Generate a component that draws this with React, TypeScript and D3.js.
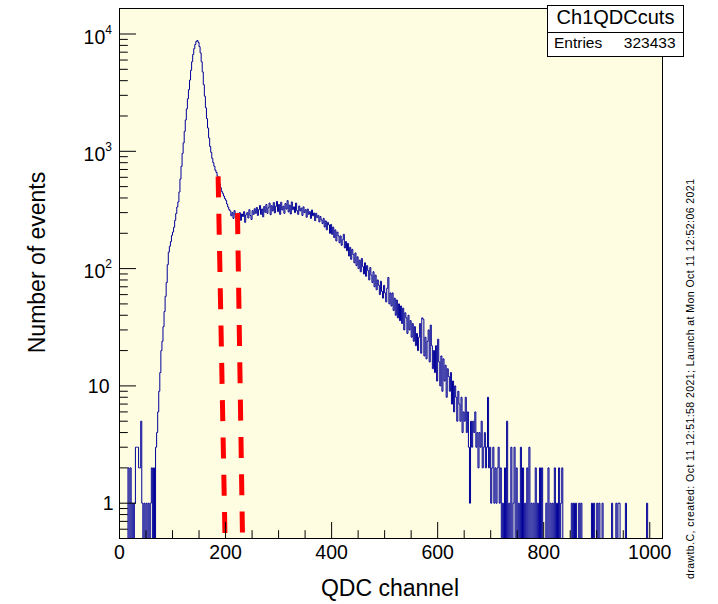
import React from "react";
import * as d3 from "d3";

// ---- data ----
const CHANNELS_PER_BIN = 2;
const X_MIN = 0;
const X_MAX = 1024;
const Y_MIN = 0.5;
const Y_MAX = 16500;

// counts per 2-channel bin
const qdcCh000to127 = [
  0, 0, 0, 0, 0, 0, 0, 0,
  2, 0, 2, 0, 1, 0, 1, 3,
  3, 3, 2, 2, 5, 1, 0, 1,
  0, 1, 0, 1, 0, 1, 2, 0,
  2, 0, 3, 4, 6, 9, 13, 20,
  24, 32, 43, 58, 76, 108, 138, 155,
  170, 192, 205, 225, 258, 295, 335, 370,
  450, 580, 745, 960, 1180, 1480, 1850, 2300,
];
const qdcCh128to255 = [
  2800, 3350, 4050, 4900, 5800, 6700, 7500, 8150,
  8650, 8800, 8500, 7800, 6900, 5800, 4750, 3700,
  2950, 2350, 1900, 1580, 1300, 1100, 980, 870,
  800, 745, 690, 660, 615, 565, 528, 490,
  455, 438, 415, 395, 382, 355, 335, 318,
  310, 282, 300, 268, 312, 286, 262, 296,
  274, 300, 258, 292, 278, 306, 248, 288,
  300, 270, 318, 284, 262, 312, 290, 324,
];
const qdcCh256to383 = [
  296, 332, 284, 318, 345, 290, 322, 276,
  338, 302, 352, 296, 330, 362, 288, 344,
  310, 366, 298, 340, 374, 306, 352, 290,
  368, 316, 340, 296, 358, 322, 380, 304,
  348, 292, 370, 318, 336, 300, 362, 312,
  290, 342, 310, 328, 284, 336, 300, 318,
  274, 322, 290, 306, 268, 316, 282, 298,
  256, 296, 272, 284, 250, 278, 260, 242,
];
const qdcCh384to511 = [
  268, 226, 255, 214, 248, 236, 200, 238,
  196, 226, 184, 214, 172, 205, 190, 166,
  190, 158, 176, 196, 150, 170, 142, 164,
  128, 152, 120, 146, 132, 112, 136, 106,
  126, 100, 118, 94, 122, 104, 90, 112,
  86, 106, 96, 80, 102, 88, 76, 94,
  70, 88, 66, 80, 72, 60, 78, 64,
  56, 72, 62, 52, 68, 84, 50, 62,
];
const qdcCh512to639 = [
  48, 62, 44, 56, 40, 54, 38, 50,
  36, 48, 34, 46, 30, 42, 38, 28,
  40, 30, 36, 26, 34, 24, 32, 22,
  28, 20, 26, 34, 19, 38, 37, 18,
  26, 17, 24, 30, 16, 33, 22, 14,
  20, 13, 22, 11, 25, 16, 10, 18,
  9, 17, 11, 15, 8, 14, 12, 9,
  13, 7, 11, 6, 10, 8, 5, 9,
];
const qdcCh640to767 = [
  7, 5, 8, 4, 6, 5, 8, 4,
  6, 3, 1, 5, 3, 5, 4, 6,
  3, 4, 2, 4, 3, 5, 2, 3,
  4, 2, 3, 8, 2, 3, 1, 2,
  3, 1, 2, 1, 2, 3, 1, 2,
  0, 1, 0, 2, 0, 5, 0, 1,
  0, 3, 0, 1, 3, 0, 2, 0,
  1, 0, 3, 0, 2, 0, 1, 0,
];
const qdcCh768to895 = [
  2, 0, 3, 0, 1, 0, 1, 0,
  2, 0, 1, 0, 2, 0, 2, 0,
  0, 0, 1, 0, 2, 0, 1, 0,
  1, 0, 2, 0, 1, 0, 2, 0,
  1, 2, 0, 0, 0, 0, 0, 0,
  0, 0, 1, 0, 1, 0, 1, 0,
  0, 1, 0, 1, 0, 0, 0, 0,
  0, 0, 0, 0, 0, 1, 0, 1,
];
const qdcCh896to1023 = [
  0, 0, 1, 0, 1, 0, 0, 1,
  0, 0, 0, 0, 0, 0, 0, 0,
  1, 0, 0, 0, 1, 0, 1, 1,
  0, 0, 0, 0, 0, 1, 0, 0,
  0, 0, 0, 0, 0, 0, 0, 0,
  0, 0, 0, 0, 0, 0, 0, 0,
  0, 1, 0, 0, 0, 0, 0, 0,
  0, 0, 0, 0, 0, 0, 0, 0,
];

const binCounts = [
  ...qdcCh000to127,
  ...qdcCh128to255,
  ...qdcCh256to383,
  ...qdcCh384to511,
  ...qdcCh512to639,
  ...qdcCh640to767,
  ...qdcCh768to895,
  ...qdcCh896to1023,
];

const xMajorTicks = [0, 200, 400, 600, 800, 1000];
const xMinorTicks = [
  50, 100, 150, 250, 300, 350, 450, 500, 550, 650, 700, 750, 850, 900, 950,
];
const yMajorTicks = [1, 10, 100, 1000, 10000];
const yTickExponents = [0, 1, 2, 3, 4];
const yMinorMantissas = [2, 3, 4, 5, 6, 7, 8, 9];
const yMinorDecades = [0.1, 1, 10, 100, 1000, 10000];

// the two cut lines (channel, count) at their top and bottom ends
const cutLines = [
  { chTop: 186, countTop: 611, chBottom: 199, countBottom: 0.5 },
  { chTop: 222.5, countTop: 297, chBottom: 232, countBottom: 0.5 },
];

const statsTitle = "Ch1QDCcuts";
const statsEntriesLabel = "Entries";
const statsEntries = "323433";
const xTitle = "QDC channel";
const yTitle = "Number of events";
const stampText =
  "drawtb.C, created: Oct 11 12:51:58 2021; Launch at Mon Oct 11 12:52:06 2021";

// ---- drawing ----
const FONT = "'Liberation Sans', Arial, Helvetica, sans-serif";

export default function App() {
  const W = 718;
  const H = 604;
  const L = 119.5;
  const R = 662.5;
  const T = 8.5;
  const B = 538.5;

  const x = d3.scaleLinear().domain([X_MIN, X_MAX]).range([L, R]);
  const y = d3.scaleLog().domain([Y_MIN, Y_MAX]).range([B, T]);
  const yOf = (c: number) => (c > 0 ? Math.max(T, Math.min(B, y(c))) : B);

  const pts: [number, number][] = binCounts.map((c, i) => [
    i * CHANNELS_PER_BIN,
    c,
  ]);
  pts.push([X_MAX, binCounts[binCounts.length - 1]]);
  const histPath =
    d3
      .line<[number, number]>()
      .x((d) => x(d[0]))
      .y((d) => yOf(d[1]))
      .curve(d3.curveStepAfter)(pts) || "";

  const yMinorTicks: number[] = [];
  yMinorDecades.forEach((d) =>
    yMinorMantissas.forEach((m) => {
      const v = m * d;
      if (v >= Y_MIN && v <= Y_MAX) yMinorTicks.push(v);
    })
  );

  const majorLen = 16.5;
  const minorLen = 8.3;
  const labelSize = 19.5;

  return (
    <svg
      width={W}
      height={H}
      viewBox={`0 0 ${W} ${H}`}
      style={{ position: "absolute", left: 0, top: 0, background: "#ffffff" }}
      fontFamily={FONT}
    >
      <defs>
        <clipPath id="frameClip">
          <rect x={L} y={T} width={R - L} height={B - T} />
        </clipPath>
      </defs>
      <rect x={0} y={0} width={W} height={H} fill="#ffffff" />
      {/* frame fill */}
      <rect x={L} y={T} width={R - L} height={B - T} fill="#fffde1" />

      {/* histogram */}
      <g clipPath="url(#frameClip)">
        <path d={histPath} fill="none" stroke="#000099" strokeWidth={1} />
      </g>

      {/* cut lines */}
      <g clipPath="url(#frameClip)">
        {cutLines.map((c, i) => (
          <line
            key={i}
            x1={x(c.chTop)}
            y1={y(c.countTop)}
            x2={x(c.chBottom)}
            y2={y(c.countBottom)}
            stroke="#ff0000"
            strokeWidth={5}
            strokeDasharray="21 16.3"
          />
        ))}
      </g>

      {/* frame border */}
      <rect
        x={L}
        y={T}
        width={R - L}
        height={B - T}
        fill="none"
        stroke="#000000"
        strokeWidth={1}
      />

      {/* ticks */}
      <g stroke="#000000" strokeWidth={1}>
        {xMajorTicks.map((t) => (
          <line key={"xM" + t} x1={x(t)} x2={x(t)} y1={B} y2={B - majorLen} />
        ))}
        {xMinorTicks.map((t) => (
          <line key={"xm" + t} x1={x(t)} x2={x(t)} y1={B} y2={B - minorLen} />
        ))}
        {yMajorTicks.map((t) => (
          <line key={"yM" + t} x1={L} x2={L + majorLen} y1={y(t)} y2={y(t)} />
        ))}
        {yMinorTicks.map((t) => (
          <line key={"ym" + t} x1={L} x2={L + minorLen} y1={y(t)} y2={y(t)} />
        ))}
      </g>

      {/* x labels */}
      <g fontSize={labelSize} fill="#000000" textAnchor="middle">
        {xMajorTicks.map((t) => (
          <text key={"xl" + t} x={x(t)} y={559.3}>
            {String(t)}
          </text>
        ))}
      </g>

      {/* y labels */}
      <g fontSize={labelSize} fill="#000000" textAnchor="end">
        {yMajorTicks.map((t, i) => {
          const e = yTickExponents[i];
          if (e <= 1) {
            return (
              <text key={"yl" + t} x={e === 0 ? 113.5 : 109.5} y={y(t) + 7}>
                {String(t)}
              </text>
            );
          }
          return (
            <text key={"yl" + t} x={112} y={y(t) + 9.5}>
              <tspan>10</tspan>
              <tspan dy={-9.7} fontSize={12}>
                {String(e)}
              </tspan>
            </text>
          );
        })}
      </g>

      {/* axis titles */}
      <text x={390} y={596} fontSize={23} textAnchor="middle">
        {xTitle}
      </text>
      <text
        transform="translate(45,262.5) rotate(-90)"
        x={0}
        y={0}
        fontSize={23}
        textAnchor="middle"
      >
        {yTitle}
      </text>

      {/* stats box */}
      <rect
        x={547.5}
        y={5.5}
        width={136}
        height={51}
        fill="#ffffff"
        stroke="#000000"
        strokeWidth={1}
      />
      <line x1={547.5} x2={683.5} y1={32.5} y2={32.5} stroke="#000000" strokeWidth={1} />
      <text x={615.5} y={24} fontSize={20} textAnchor="middle">
        {statsTitle}
      </text>
      <text x={554} y={48.3} fontSize={15.5}>
        {statsEntriesLabel}
      </text>
      <text x={675.6} y={48.3} fontSize={15.5} textAnchor="end">
        {statsEntries}
      </text>

      {/* time stamp */}
      <text
        transform="translate(693.5,579) rotate(-90)"
        x={0}
        y={0}
        fontSize={10.5}
        textAnchor="start"
        textLength={400}
        lengthAdjust="spacing"
      >
        {stampText}
      </text>
    </svg>
  );
}
